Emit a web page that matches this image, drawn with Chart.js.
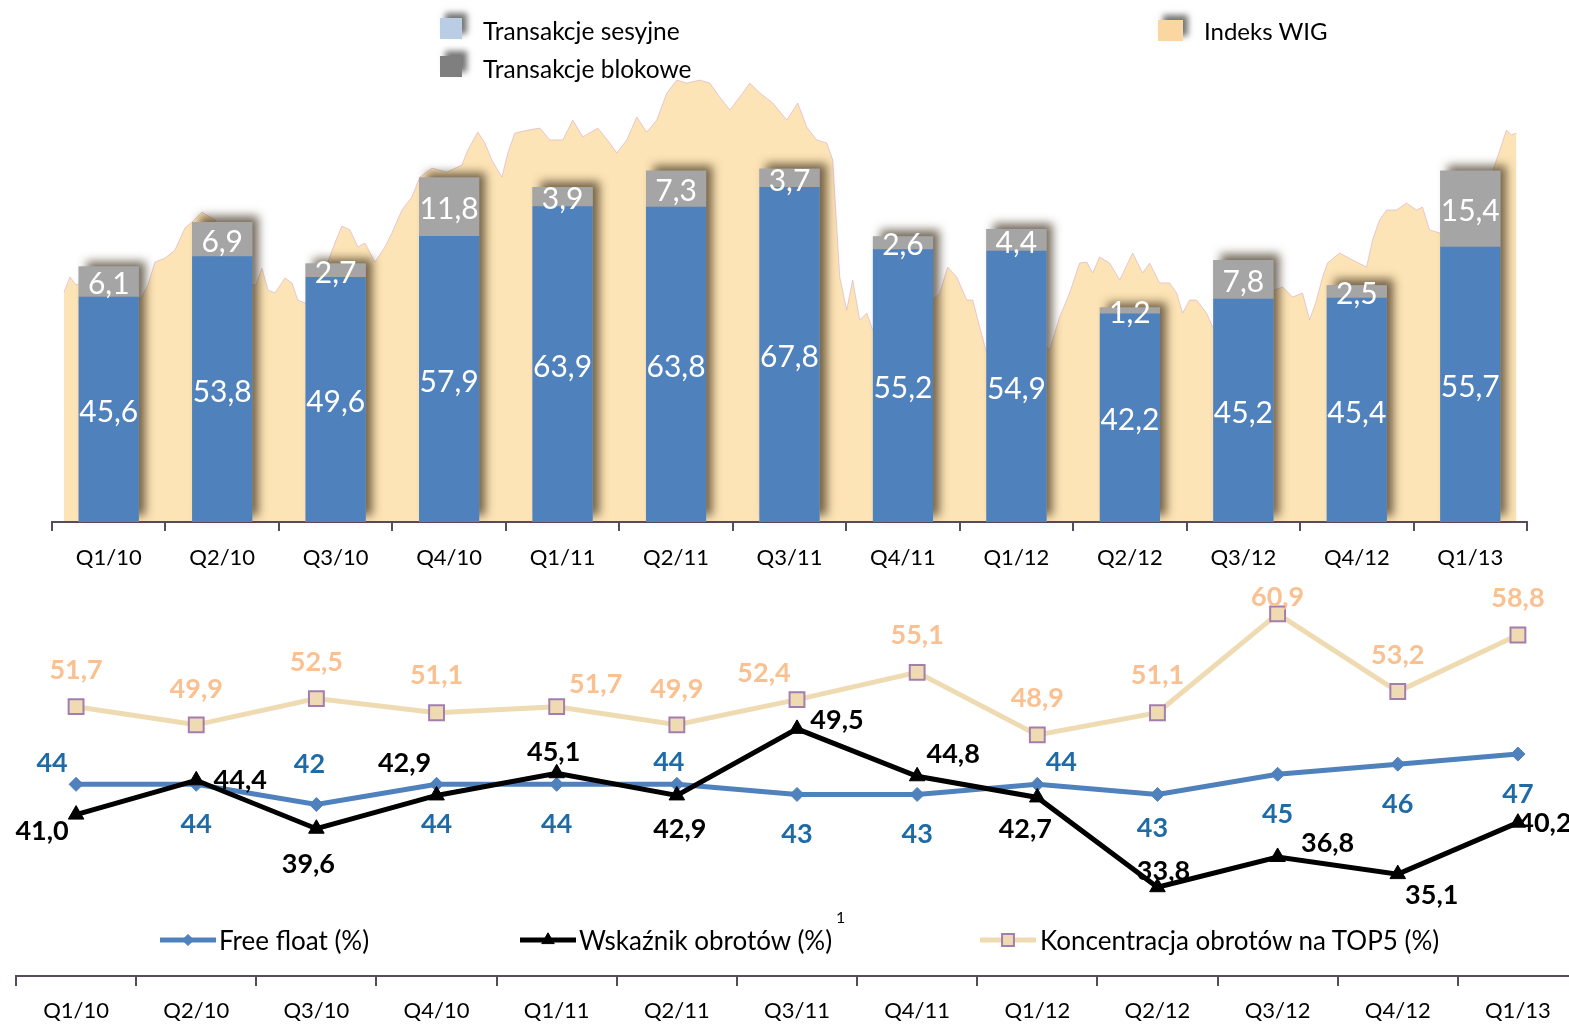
<!DOCTYPE html>
<html>
<head>
<meta charset="utf-8">
<script src="https://cdn.jsdelivr.net/npm/chart.js@4.4.1/dist/chart.umd.min.js"></script>
<style>
  html, body { margin: 0; padding: 0; background: #fff; overflow: hidden; width: 1569px; height: 1024px; font-family: Lato, "Open Sans", sans-serif; }
  canvas { position: absolute; left: 0; }
  #wig, #turnover { top: 0; }
  #ratios { top: 560px; }
  .txt { position: absolute; font-size: 24px; line-height: 30px; color: #000; white-space: nowrap; }
  .txt2 { position: absolute; font-size: 26px; line-height: 30px; color: #000; white-space: nowrap; }
  .sw { position: absolute; box-shadow: 5px -5px 6px rgba(0,0,0,.55); }
  .mk { position: absolute; }
  .sup { position: absolute; font-size: 16px; line-height: 16px; color: #000; }
</style>
</head>
<body>
<canvas id="wig" width="1569" height="590"></canvas>
<canvas id="turnover" width="1569" height="590"></canvas>
<canvas id="ratios" width="1600" height="464"></canvas>

<!-- legend of the upper chart -->
<div class="sw" style="left:440px;top:18px;width:22px;height:21px;background:#B9CDE5"></div>
<div class="txt" style="left:483px;top:16px;font-size:24.5px">Transakcje sesyjne</div>
<div class="sw" style="left:440px;top:56px;width:22px;height:21px;background:#7F7F7F"></div>
<div class="txt" style="left:483px;top:54px;font-size:24.5px">Transakcje blokowe</div>
<div class="sw" style="left:1158px;top:20px;width:25px;height:21px;background:#FAD7A0"></div>
<div class="txt" style="left:1204px;top:16px">Indeks WIG</div>

<!-- legend of the lower chart -->
<canvas class="mk" id="mk0" width="58" height="30" style="left:159px;top:925px"></canvas>
<div class="txt2" style="left:219px;top:925px">Free float (%)</div>
<canvas class="mk" id="mk1" width="58" height="30" style="left:519px;top:925px"></canvas>
<div class="txt2" style="left:579px;top:925px">Wskaźnik obrotów (%)</div>
<div class="sup" style="left:836px;top:909px">1</div>
<canvas class="mk" id="mk2" width="58" height="30" style="left:979px;top:925px"></canvas>
<div class="txt2" style="left:1040px;top:925px">Koncentracja obrotów na TOP5 (%)</div>

<script>
// Quarters shown on both charts
const quarters = ['Q1/10','Q2/10','Q3/10','Q4/10','Q1/11','Q2/11','Q3/11','Q4/11','Q1/12','Q2/12','Q3/12','Q4/12','Q1/13'];

// Turnover, bn PLN
const sessionTurnover = [45.6, 53.8, 49.6, 57.9, 63.9, 63.8, 67.8, 55.2, 54.9, 42.2, 45.2, 45.4, 55.7];
const blockTurnover   = [6.1, 6.9, 2.7, 11.8, 3.9, 7.3, 3.7, 2.6, 4.4, 1.2, 7.8, 2.5, 15.4];

// WIG index: time in quarters elapsed since the start of 2010, and index level
const wigTime = [
  0.106,0.159,0.211,0.335,0.511,0.687,0.775,0.846,0.907,0.996,
  1.084,1.172,1.233,1.322,1.436,1.612,1.762,1.797,1.850,1.903,
  1.965,2.053,2.115,2.167,2.229,2.317,2.405,2.493,2.555,2.626,
  2.696,2.758,2.846,2.934,2.996,3.084,3.172,3.242,3.348,3.480,
  3.612,3.665,3.753,3.815,3.877,3.965,4.018,4.079,4.194,4.300,
  4.388,4.502,4.590,4.678,4.811,4.916,4.978,5.066,5.154,5.242,
  5.330,5.419,5.507,5.595,5.709,5.797,5.885,5.974,6.062,6.150,
  6.238,6.352,6.476,6.573,6.652,6.740,6.828,6.881,6.916,6.943,
  7.004,7.057,7.119,7.181,7.233,7.383,7.559,7.692,7.762,7.824,
  7.894,7.974,8.062,8.115,8.176,8.238,8.352,8.529,8.705,8.793,
  8.881,8.969,9.057,9.119,9.172,9.233,9.322,9.410,9.524,9.612,
  9.674,9.762,9.850,9.912,9.965,10.026,10.088,10.176,10.229,10.335,
  10.511,10.687,10.775,10.846,10.934,11.022,11.084,11.145,11.198,11.242,
  11.348,11.463,11.586,11.639,11.700,11.762,11.850,11.938,12.026,12.079,
  12.141,12.229,12.361,12.537,12.670,12.731,12.819,12.863,12.907
];
const wigLevel = [
  39450,40200,39800,40050,39800,40300,39050,39800,40940,41140,
  41540,42640,42930,43430,43030,41540,39800,39800,40640,39550,
  39400,40150,39900,39050,38900,39550,40540,41890,42730,42540,
  41690,41890,40940,41690,42390,43530,44180,45170,45620,45420,
  45770,46520,47410,46870,46020,45170,46370,47360,47510,47610,
  47020,47020,48010,47170,47610,46870,46370,47020,48160,47410,
  48010,49360,50000,49850,50000,49850,49160,48510,49160,49850,
  49360,48860,48010,48860,47660,47020,46870,46020,42690,40200,
  38550,40050,38060,38400,37560,37060,38060,39050,39050,39400,
  40690,40200,39050,39050,37710,36410,36060,36810,37060,36560,
  38210,39400,40890,40940,40400,41190,40890,40050,41390,40400,
  40890,39900,39900,39400,38400,39050,39050,38400,37710,38060,
  38550,39050,39550,39700,39200,39400,38060,39050,40200,40890,
  41390,41040,40690,42040,43030,43530,43530,43880,43530,43680,
  42540,42390,43030,44030,45030,46020,47510,47270,47360
];

// Ratios, %
const freeFloat     = [44, 44, 42, 44, 44, 44, 43, 43, 44, 43, 45, 46, 47];
const turnoverRatio = [41.0, 44.4, 39.6, 42.9, 45.1, 42.9, 49.5, 44.8, 42.7, 33.8, 36.8, 35.1, 40.2];
const top5Share     = [51.7, 49.9, 52.5, 51.1, 51.7, 49.9, 52.4, 55.1, 48.9, 51.1, 60.9, 53.2, 58.8];

const FONT = 'Lato, "Open Sans", sans-serif';
const dec1 = v => v.toFixed(1).replace('.', ',');
const int0 = v => String(Math.round(v));
const axisColor = '#594A5C';

// Shared frame of the upper charts (index area underneath, bars on top)
const upperPadding = { top: 60, left: 52, right: 42 };
const upperAxisHeight = 68;

// Writes each point's value next to it (centred in the segment for bars)
const valueLabels = {
  id: 'valueLabels',
  afterDatasetsDraw(chart) {
    const ctx = chart.ctx;
    chart.data.datasets.forEach((ds, di) => {
      const lab = ds.valueLabel;
      if (!lab) return;
      const meta = chart.getDatasetMeta(di);
      ctx.save();
      ctx.font = lab.font;
      ctx.fillStyle = lab.color;
      ctx.textAlign = 'center';
      ctx.textBaseline = 'middle';
      meta.data.forEach((el, i) => {
        const n = lab.nudge ? lab.nudge[i] : [0, 0];
        const y = meta.type === 'bar' ? (el.y + el.base) / 2 : el.y;
        ctx.fillText(lab.format(ds.data[i]), el.x + n[0], y + n[1] + (lab.shift || 0));
      });
      ctx.restore();
    });
  }
};

// Soft shadow behind each whole bar stack
const stackShadow = {
  id: 'stackShadow',
  beforeDatasetsDraw(chart) {
    const low = chart.getDatasetMeta(0).data, high = chart.getDatasetMeta(1).data;
    const ctx = chart.ctx;
    ctx.save();
    ctx.shadowColor = 'rgba(60,45,25,0.7)';
    ctx.shadowBlur = 9;
    ctx.shadowOffsetX = 7;
    ctx.shadowOffsetY = -6;
    ctx.fillStyle = '#A5A5A5';
    low.forEach((el, i) => {
      const top = high[i].y;
      ctx.fillRect(el.x - el.width / 2, top, el.width, el.base - top);
    });
    ctx.restore();
  }
};

// WIG index area
new Chart(document.getElementById('wig'), {
  type: 'line',
  data: {
    datasets: [{
      label: 'Indeks WIG',
      data: wigTime.map((t, i) => ({ x: t, y: wigLevel[i] })),
      fill: 'start', backgroundColor: '#FDE4B6', borderColor: 'rgba(214,172,200,0.6)',
      borderWidth: 1, pointRadius: 0, tension: 0
    }]
  },
  options: {
    responsive: false, animation: false, devicePixelRatio: 1,
    layout: { padding: { ...upperPadding, bottom: upperAxisHeight } },
    plugins: { legend: { display: false }, tooltip: { enabled: false } },
    scales: {
      x: { type: 'linear', display: false, offset: false, min: 0, max: 13 },
      y: { type: 'linear', display: false, min: 28000, max: 51000 }
    }
  }
});

// Session and block turnover, stacked
new Chart(document.getElementById('turnover'), {
  type: 'bar',
  data: {
    labels: quarters,
    datasets: [
      {
        label: 'Transakcje sesyjne', data: sessionTurnover, backgroundColor: '#4F81BD',
        valueLabel: { font: '30px ' + FONT, color: '#fff', format: dec1, shift: 3 }
      },
      {
        label: 'Transakcje blokowe', data: blockTurnover, backgroundColor: '#A5A5A5',
        valueLabel: { font: '30px ' + FONT, color: '#fff', format: dec1, shift: 3 }
      }
    ]
  },
  options: {
    responsive: false, animation: false, devicePixelRatio: 1,
    barPercentage: 0.53, categoryPercentage: 1,
    layout: { padding: { ...upperPadding, bottom: 0 } },
    plugins: { legend: { display: false }, tooltip: { enabled: false } },
    scales: {
      x: {
        stacked: true, offset: true,
        grid: { display: true, drawOnChartArea: false, drawTicks: true, tickLength: 9, color: axisColor, lineWidth: 2, offset: true },
        border: { display: true, color: axisColor, width: 2 },
        ticks: { color: '#000', font: { family: FONT, size: 22 }, padding: 14, maxRotation: 0, autoSkip: false },
        afterFit: s => { s.height = upperAxisHeight; }
      },
      y: { stacked: true, display: false, min: 0, max: 93.5 }
    }
  },
  plugins: [stackShadow, valueLabels]
});

const ratioStyles = [
  { color: '#000000', pointStyle: 'triangle', radius: 9, fill: '#000000', border: '#000000', bw: 1 },
  { color: '#4F81BD', pointStyle: 'rectRot', radius: 7, fill: '#4F81BD', border: '#4F81BD', bw: 1 },
  { color: '#EFDBB2', pointStyle: 'rect', radius: 10.5, fill: '#EFDBB2', border: '#A47DB0', bw: 2 }
];

new Chart(document.getElementById('ratios'), {
  type: 'line',
  data: {
    labels: quarters,
    datasets: [
      {
        label: 'Wskaźnik obrotów (%)', data: turnoverRatio, order: 0,
        borderColor: ratioStyles[0].color, borderWidth: 5, tension: 0,
        pointStyle: 'triangle', pointRadius: 9, pointBackgroundColor: '#000', pointBorderColor: '#000', pointBorderWidth: 1,
        valueLabel: {
          font: 'bold 27px ' + FONT, color: '#000', format: dec1,
          nudge: [[-34,17],[44,0],[-8,36],[-32,-32],[-3,-21],[3,34],[40,-9],[36,-22],[-12,32],[6,-16],[50,-14],[34,21],[27,1]]
        }
      },
      {
        label: 'Free float (%)', data: freeFloat, order: 1,
        borderColor: ratioStyles[1].color, borderWidth: 5, tension: 0,
        pointStyle: 'rectRot', pointRadius: 7, pointBackgroundColor: '#4F81BD', pointBorderColor: '#4F81BD', pointBorderWidth: 1,
        valueLabel: {
          font: 'bold 27px ' + FONT, color: '#1E6BA6', format: int0,
          nudge: [[-24,-21],[0,40],[-7,-40],[0,40],[0,40],[-8,-22],[0,40],[0,40],[24,-22],[-5,34],[0,40],[0,40],[0,40]]
        }
      },
      {
        label: 'Koncentracja obrotów na TOP5 (%)', data: top5Share, order: 2,
        borderColor: ratioStyles[2].color, borderWidth: 5, tension: 0,
        pointStyle: 'rect', pointRadius: 10.5, pointBackgroundColor: '#EFDBB2', pointBorderColor: '#A47DB0', pointBorderWidth: 2,
        valueLabel: {
          font: 'bold 27px ' + FONT, color: '#FAC090', format: dec1,
          nudge: [[0,-36],[0,-36],[0,-36],[0,-37],[39,-22],[0,-36],[-33,-26],[0,-37],[0,-37],[0,-37],[0,-17],[0,-36],[0,-37]]
        }
      }
    ]
  },
  options: {
    responsive: false, animation: false, devicePixelRatio: 1,
    layout: { padding: { top: 10, left: 16, right: 22, bottom: 0 } },
    plugins: { legend: { display: false }, tooltip: { enabled: false } },
    scales: {
      x: {
        offset: true,
        grid: { display: true, drawOnChartArea: false, drawTicks: true, tickLength: 10, color: axisColor, lineWidth: 2, offset: true },
        border: { display: true, color: axisColor, width: 2 },
        ticks: { color: '#000', font: { family: FONT, size: 22 }, padding: 12, maxRotation: 0, autoSkip: false },
        afterFit: s => { s.height = 48; }
      },
      y: { display: false, min: 25, max: 65 }
    }
  },
  plugins: [valueLabels]
});

// Legend markers of the lower chart, drawn with the same point styles as the lines
[1, 0, 2].forEach((styleIndex, i) => {
  const s = ratioStyles[styleIndex];
  const c = document.getElementById('mk' + i).getContext('2d');
  c.strokeStyle = s.color;
  c.lineWidth = 5;
  c.beginPath(); c.moveTo(1, 15); c.lineTo(57, 15); c.stroke();
  c.fillStyle = s.fill;
  c.strokeStyle = s.border;
  c.lineWidth = s.bw;
  Chart.helpers.drawPoint(c, { pointStyle: s.pointStyle, radius: s.radius * 0.8, rotation: 0, borderWidth: s.bw }, 29, 15);
});
</script>
</body>
</html>
